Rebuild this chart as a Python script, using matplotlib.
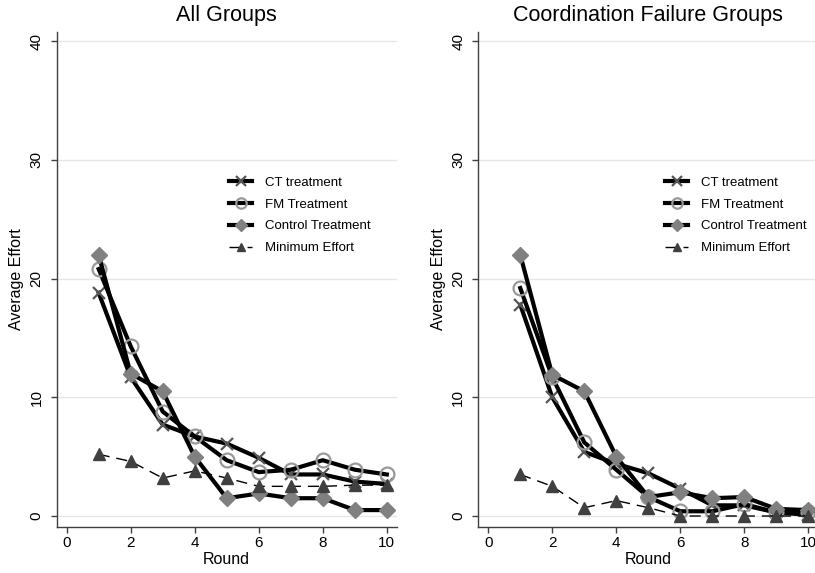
import matplotlib
matplotlib.use("Agg")
import matplotlib.pyplot as plt

plt.rcParams['font.family'] = ['Liberation Sans', 'DejaVu Sans']

rounds = [1, 2, 3, 4, 5, 6, 7, 8, 9, 10]

# All Groups
all_ct = [18.8, 11.7, 7.7, 6.7, 6.1, 4.9, 3.5, 3.5, 2.9, 2.7]
all_fm = [20.8, 14.3, 8.8, 6.7, 4.7, 3.7, 3.9, 4.7, 3.9, 3.5]
all_control = [22.0, 12.0, 10.5, 5.0, 1.5, 1.9, 1.5, 1.5, 0.5, 0.5]
all_min = [5.2, 4.6, 3.2, 3.8, 3.2, 2.5, 2.5, 2.5, 2.6, 2.6]

# Coordination Failure Groups
cf_ct = [17.8, 10.0, 5.4, 4.4, 3.6, 2.3, 0.9, 0.9, 0.3, 0.1]
cf_fm = [19.2, 11.7, 6.2, 3.9, 1.6, 0.4, 0.4, 1.0, 0.3, 0.3]
cf_control = [22.0, 11.9, 10.5, 5.0, 1.6, 2.0, 1.5, 1.6, 0.6, 0.5]
cf_min = [3.5, 2.5, 0.7, 1.3, 0.7, 0.0, 0.0, 0.0, 0.0, 0.0]

labels = ["CT treatment", "FM Treatment", "Control Treatment", "Minimum Effort"]
titles = ["All Groups", "Coordination Failure Groups"]
yticks = [0, 10, 20, 30, 40]
xticks = [0, 2, 4, 6, 8, 10]

axis_col = '#404040'

fig = plt.figure(figsize=(8.15, 5.73), dpi=100)
ax_left = fig.add_axes([0.0696, 0.0808, 0.4172, 0.8639])
ax_right = fig.add_axes([0.5869, 0.0808, 0.4172, 0.8639])


def draw_panel(ax, ct, fm, control, mn, title, leg_x):
    ax.plot(rounds, ct, color='black', lw=3, marker='x', ms=9, mec='#555555', mew=1.6, label=labels[0])
    ax.plot(rounds, fm, color='black', lw=3, marker='o', ms=10, mfc='none', mec='#999999', mew=1.6, label=labels[1])
    ax.plot(rounds, control, color='black', lw=3, marker='D', ms=8, mfc='#808080', mec='#808080', label=labels[2])
    ax.plot(rounds, mn, color='black', lw=1, ls=(0, (8, 5)), marker='^', ms=8, mfc='#404040', mec='#404040', label=labels[3])

    ax.set_xlim(-0.31, 10.31)
    ax.set_ylim(-0.9, 40.8)
    ax.set_xticks(xticks)
    ax.set_yticks(yticks)
    ax.set_yticklabels([str(t) for t in yticks], rotation=90, va='center')
    ax.tick_params(axis='both', direction='out', length=4.5, width=1, color=axis_col, labelsize=11)
    ax.tick_params(axis='y', pad=5)
    ax.tick_params(axis='x', pad=2.5)
    ax.grid(axis='y', color='#e6e6e6', lw=1)
    ax.set_axisbelow(True)
    for s in ['top', 'right']:
        ax.spines[s].set_visible(False)
    for s in ['left', 'bottom']:
        ax.spines[s].set_color(axis_col)
        ax.spines[s].set_linewidth(1)
    ax.set_title(title, fontsize=15.5, pad=8)
    ax.set_xlabel("Round", fontsize=11.5, labelpad=1)
    ax.set_ylabel("Average Effort", fontsize=11.5, labelpad=4)
    ax.legend(loc='upper left', bbox_to_anchor=(leg_x, 0.707), frameon=False, fontsize=9.5,
              handlelength=1.75, handletextpad=1.0, labelspacing=0.72, borderpad=0, borderaxespad=0,
              markerscale=0.75)


draw_panel(ax_left, all_ct, all_fm, all_control, all_min, titles[0], 0.507)
draw_panel(ax_right, cf_ct, cf_fm, cf_control, cf_min, titles[1], 0.549)

fig.savefig("out.png", dpi=100)
